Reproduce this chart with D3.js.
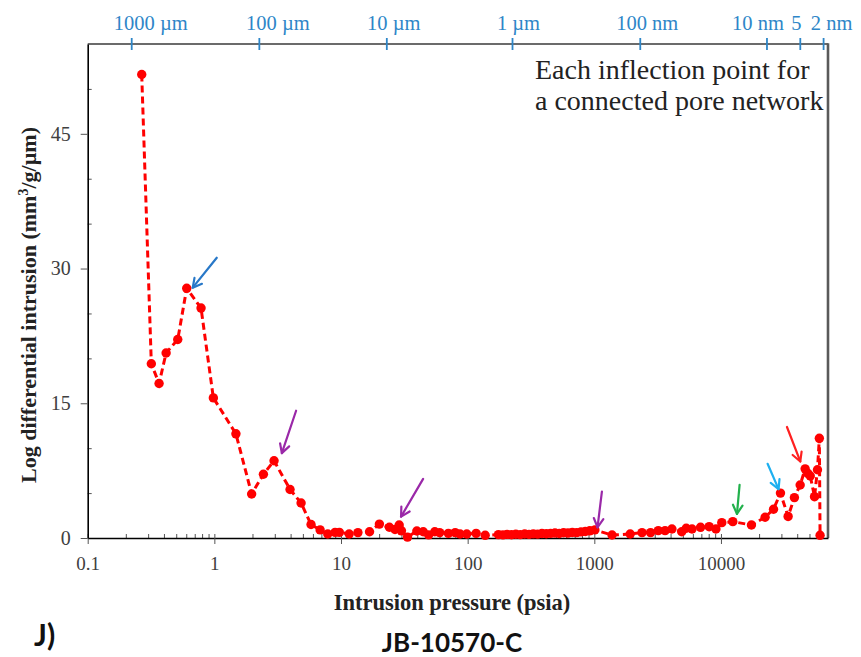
<!DOCTYPE html>
<html>
<head>
<meta charset="utf-8">
<script src="https://cdn.jsdelivr.net/npm/d3@7/dist/d3.min.js"></script>
<style>
  html, body { margin: 0; padding: 0; background: #fff; }
  svg { display: block; }
</style>
</head>
<body>
<svg id="chart" width="861" height="657"></svg>
<script>
// Mercury intrusion: pressure (psia) vs log differential intrusion (mm³/g/µm)
const pressure = [
  0.267, 0.318, 0.366, 0.416, 0.514, 0.605, 0.785, 0.982, 1.48, 1.97,
  2.44, 2.96, 3.96, 4.84, 5.80, 6.84, 7.86, 8.98, 9.71, 11.6,
  13.6, 16.8, 20.1, 24.1, 26.7, 28.8, 30.0, 33.5, 39.7, 44.6,
  49.2, 55.0, 60.1, 70.4, 79.7, 87.1, 98.4, 116.6, 137.5,
  175, 190, 205, 222, 240, 260, 282, 305, 330, 357,
  386, 418, 452, 489, 529, 572, 619, 670, 725, 785,
  850, 920, 1010,
  1380, 1920, 2380, 2780, 3200, 3620, 4100, 4900, 5320, 5910,
  6900, 8070, 9130, 10150, 12400, 17400, 22300, 26000, 29500, 33900,
  38000, 42200, 46200, 48500, 50700, 54800, 57800, 59800, 60600
];
const intrusion = [
  51.6, 19.4, 17.2, 20.6, 22.1, 27.8, 25.6, 15.6, 11.6, 4.9,
  7.1, 8.6, 5.4, 3.9, 1.5, 0.9, 0.45, 0.63, 0.63, 0.45,
  0.6, 0.7, 1.55, 1.2, 0.95, 1.45, 0.8, 0.1, 0.78, 0.70,
  0.35, 0.70, 0.6, 0.52, 0.6, 0.45, 0.45, 0.52, 0.3,
  0.38, 0.35, 0.40, 0.36, 0.42, 0.38, 0.44, 0.40, 0.46, 0.43,
  0.50, 0.47, 0.52, 0.55, 0.50, 0.58, 0.55, 0.62, 0.60, 0.68,
  0.72, 0.80, 0.90,
  0.33, 0.45, 0.6, 0.6, 0.82, 0.82, 1.0, 0.7, 1.08, 1.0,
  1.19, 1.26, 1.0, 1.71, 1.82, 1.45, 2.31, 3.2, 5.0, 2.4,
  4.5, 5.9, 7.7, 7.2, 6.9, 4.6, 7.6, 11.1, 0.3
];

// Bottom axis decades and left axis values
const xTicks = [0.1, 1, 10, 100, 1000, 10000];
const xTickLabels = ["0.1", "1", "10", "100", "1000", "10000"];
const yTicks = [0, 15, 30, 45];
const yMinorTicks = [5, 10, 20, 25, 35, 40, 50];

// Equivalent pore throat diameters along the top
const poreLabels = ["1000 µm", "100 µm", "10 µm", "1 µm", "100 nm", "10 nm", "5", "2 nm"];
const porePressure = [0.2226, 2.266, 23.0, 226, 2306, 23080, 42300, 64600];

// Arrows marking inflection points (tail -> tip, in data units)
const arrowColors = ["#2878c8", "#9a28a8", "#9a28a8", "#9a28a8", "#22b14c", "#1eb0f0", "#ff2020"];
const arrowTailP = [1.045, 4.42, 44.5, 1148, 14030, 23350, 33200];
const arrowTailV = [31.2, 14.17, 6.58, 5.17, 5.92, 8.26, 12.36];
const arrowTipP  = [0.675, 3.41, 29.8, 1060, 13370, 28500, 42300];
const arrowTipV  = [27.87, 9.45, 2.38, 1.19, 2.68, 5.44, 8.52];

const svg = d3.select("#chart");
const plotL = 87.7, plotR = 828, plotT = 44, plotB = 538;

const x = d3.scaleLog().domain([0.1, 70000]).range([plotL, plotR]);
const y = d3.scaleLinear().domain([0, 55]).range([plotB, plotT]);

const serif = "'Liberation Serif', 'Times New Roman', serif";
const tickGray = "#404040";

// Frame: top and right edges
svg.append("line").attr("x1", plotL).attr("x2", plotR).attr("y1", plotT).attr("y2", plotT)
  .attr("stroke", "#3a3a3a").attr("stroke-width", 1.6);
svg.append("line").attr("x1", plotR).attr("x2", plotR).attr("y1", plotT - 0.8).attr("y2", plotB)
  .attr("stroke", "#5a5a5a").attr("stroke-width", 2.6);

// Bottom axis with log minor ticks pointing inward
const minorX = [];
for (let d = 0.1; d < 70000; d *= 10) {
  for (let k = 2; k <= 9; k++) { if (d * k <= 70000) minorX.push(d * k); }
}
const xAxisG = svg.append("g").attr("transform", `translate(0,${plotB})`);
xAxisG.call(d3.axisBottom(x).tickValues(minorX).tickSize(-4).tickFormat(""))
  .call(g => g.select(".domain").remove())
  .call(g => g.selectAll("line").attr("stroke", "#555").attr("stroke-width", 1));
const xMajor = svg.append("g").attr("transform", `translate(0,${plotB})`);
xMajor.call(d3.axisBottom(x).tickValues(xTicks).tickSizeInner(6).tickSizeOuter(0)
    .tickFormat((d, i) => xTickLabels[i]))
  .call(g => g.select(".domain").attr("stroke", "#000").attr("stroke-width", 1.6))
  .call(g => g.selectAll(".tick line").attr("stroke", "#555").attr("y1", -4))
  .call(g => g.selectAll("text").attr("font-family", serif).attr("font-size", 19)
    .attr("fill", tickGray).attr("dy", null).attr("y", 32));

// Left axis
const yMinorG = svg.append("g").attr("transform", `translate(${plotL},0)`);
yMinorG.call(d3.axisLeft(y).tickValues(yMinorTicks).tickSize(-4).tickFormat(""))
  .call(g => g.select(".domain").remove())
  .call(g => g.selectAll("line").attr("stroke", "#555"));
const yAxisG = svg.append("g").attr("transform", `translate(${plotL},0)`);
yAxisG.call(d3.axisLeft(y).tickValues(yTicks).tickSizeInner(7).tickSizeOuter(0).tickFormat(d3.format("d")))
  .call(g => g.select(".domain").attr("stroke", "#000").attr("stroke-width", 1.6))
  .call(g => g.selectAll(".tick line").attr("stroke", "#555"))
  .call(g => g.selectAll("text").attr("font-family", serif).attr("font-size", 20)
    .attr("fill", tickGray).attr("x", -17));

// Top axis: pore diameter ticks (blue crosses)
const topG = svg.append("g");
topG.selectAll("line.pore").data(porePressure).join("line")
  .attr("class", "pore")
  .attr("x1", d => x(d)).attr("x2", d => x(d))
  .attr("y1", plotT - 6).attr("y2", plotT + 6)
  .attr("stroke", "#2e86c8").attr("stroke-width", 1.8);
const labelShift = [19, 18.5, 7, 6, 7, -9, -4, 8];
topG.selectAll("text.pore").data(poreLabels).join("text")
  .attr("class", "pore")
  .attr("x", (d, i) => x(porePressure[i]) + labelShift[i])
  .attr("y", 30)
  .attr("text-anchor", "middle")
  .attr("font-family", serif).attr("font-size", 20.5)
  .attr("fill", "#2e86c8")
  .text(d => d);

// Series: dashed red line with dot markers
const pts = pressure.map((p, i) => [p, intrusion[i]]);
const line = d3.line().x(d => x(d[0])).y(d => y(d[1]));
svg.append("path").datum(pts)
  .attr("d", line).attr("fill", "none")
  .attr("stroke", "#ff0000").attr("stroke-width", 3)
  .attr("stroke-dasharray", "7,4");
svg.append("g").selectAll("circle").data(pts).join("circle")
  .attr("cx", d => x(d[0])).attr("cy", d => y(d[1])).attr("r", 4.7)
  .attr("fill", "#ff0000");

// Inflection arrows with open heads
arrowColors.forEach((c, i) => {
  const x1 = x(arrowTailP[i]), y1 = y(arrowTailV[i]);
  const x2 = x(arrowTipP[i]), y2 = y(arrowTipV[i]);
  const ang = Math.atan2(y2 - y1, x2 - x1);
  const h = 10, spread = 0.5;
  const g = svg.append("g").attr("stroke", c).attr("stroke-width", 2.2)
    .attr("fill", "none").attr("stroke-linecap", "round").attr("stroke-linejoin", "round");
  g.append("line").attr("x1", x1).attr("y1", y1).attr("x2", x2).attr("y2", y2);
  g.append("path").attr("d",
    `M${x2 - h * Math.cos(ang - spread)},${y2 - h * Math.sin(ang - spread)}` +
    `L${x2},${y2}` +
    `L${x2 - h * Math.cos(ang + spread)},${y2 - h * Math.sin(ang + spread)}`);
});

// Note in upper right
const note = svg.append("text").attr("font-family", serif).attr("font-size", 28).attr("fill", "#222");
note.append("tspan").attr("x", 535).attr("y", 79).text("Each inflection point for");
note.append("tspan").attr("x", 535).attr("y", 110).text("a connected pore network");

// Axis titles
svg.append("text")
  .attr("x", 452).attr("y", 610).attr("text-anchor", "middle")
  .attr("font-family", serif).attr("font-weight", "bold").attr("font-size", 22.5)
  .attr("fill", "#222").text("Intrusion pressure (psia)");
const yt = svg.append("text")
  .attr("transform", "translate(36,305) rotate(-90)").attr("text-anchor", "middle")
  .attr("font-family", serif).attr("font-weight", "bold").attr("font-size", 22).attr("fill", "#222");
yt.append("tspan").text("Log differential intrusion (mm");
yt.append("tspan").attr("font-size", 14).attr("dy", -8).text("3");
yt.append("tspan").attr("dy", 8).text("/g/µm)");

// Panel tag and sample name
svg.append("text").attr("x", 34).attr("y", 646)
  .attr("font-family", "Lato, 'Open Sans', sans-serif").attr("font-weight", "bold")
  .attr("font-size", 30).attr("fill", "#111").text("J)");
svg.append("text").attr("x", 452).attr("y", 652).attr("text-anchor", "middle")
  .attr("font-family", "Lato, 'Open Sans', sans-serif").attr("font-weight", "bold")
  .attr("font-size", 26).attr("fill", "#111").text("JB-10570-C");
</script>
</body>
</html>
